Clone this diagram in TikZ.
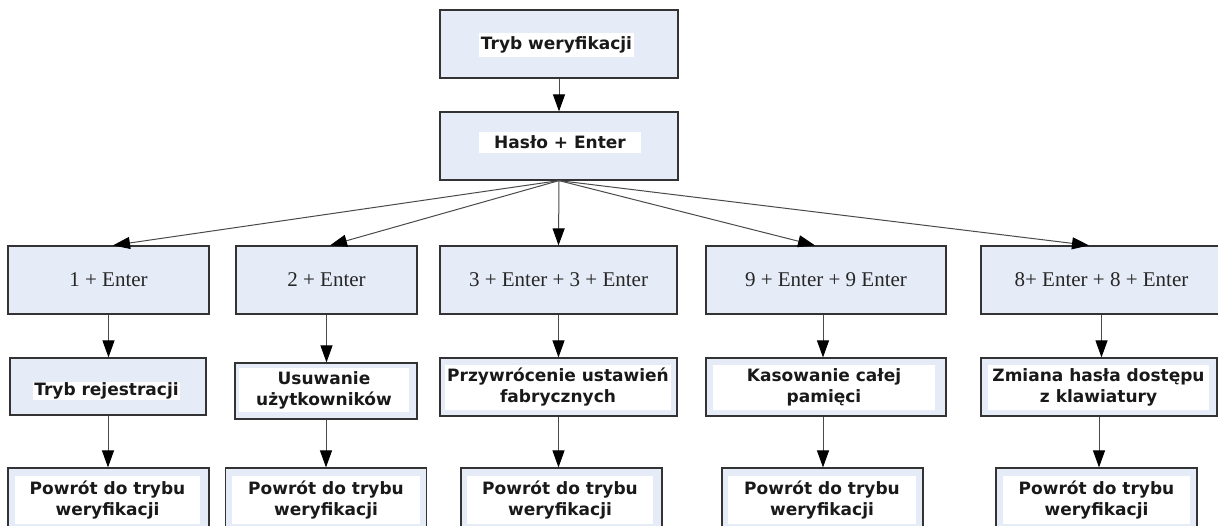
\documentclass[tikz,border=0pt]{standalone}
\usepackage{fontspec}
\setmainfont{Liberation Serif}
\newfontfamily\labelfont{DejaVu Sans}
\usetikzlibrary{arrows.meta}
\definecolor{boxblue}{HTML}{E6ECF7}
\definecolor{boxline}{HTML}{333333}
\definecolor{linkgray}{HTML}{4A4A4A}
\tikzset{%
	>={Triangle[width=12pt,length=17pt,color=black]},
	% Specifications for style of nodes:
	base/.style = {rectangle, draw=boxline, line width=1.2pt, fill=boxblue,
		inner sep=0pt},
	keybox/.style = {base, minimum height=68pt, text=black!85,
		font=\fontsize{21}{25}\selectfont},
	stepbox/.style = {base, minimum height=58pt},
	backbox/.style = {base, minimum width=201pt, minimum height=72pt},
	caption/.style = {fill=white, inner sep=0pt, align=center, text=black!90,
		font=\labelfont\bfseries\fontsize{17}{21}\selectfont},
	link/.style = {->, draw=linkgray, line width=1pt},
}

\begin{document}
\begin{tikzpicture}[x=1pt, y=-1pt]
	\useasboundingbox (0,0) rectangle (1218,525);
	% Specification of nodes (position, etc.)
	\node (verify)   [base, minimum width=238pt, minimum height=68pt] at (559,44) {};
	\node (verify-t) [caption, minimum width=155pt, minimum height=24pt] at (556.5,45) {Tryb weryfikacji};
	\node (haslo)    [base, minimum width=238pt, minimum height=68pt] at (559,146) {};
	\node (haslo-t)  [caption, minimum width=162pt, minimum height=21pt] at (560,142.5) {Hasło + Enter};

	% key combinations
	\node (k1) [keybox, minimum width=201pt] at (108.5,280) {1 + Enter};
	\node (k2) [keybox, minimum width=181pt] at (326.5,280) {2 + Enter};
	\node (k3) [keybox, minimum width=237pt] at (558.5,280) {3 + Enter + 3 + Enter};
	\node (k4) [keybox, minimum width=240pt] at (826,280) {9 + Enter + 9 Enter};
	\node (k5) [keybox, minimum width=241pt] at (1101.5,280) {8+ Enter + 8 + Enter};

	% functions
	\node (r1)   [stepbox, minimum width=196pt, minimum height=57pt] at (108,386.5) {};
	\node (r1-t) [caption, minimum width=147pt, minimum height=18pt] at (106.5,391) {Tryb rejestracji};
	\node (r2)   [stepbox, minimum width=182pt, minimum height=56pt] at (326,391) {};
	\node (r2-t) [caption, minimum width=170pt, minimum height=44pt] at (324,390) {Usuwanie\\użytkowników};
	\node (r3)   [stepbox, minimum width=237pt] at (558.5,387) {};
	\node (r3-t) [caption, minimum width=226pt, minimum height=45pt] at (558,387.5) {Przywrócenie ustawień\\fabrycznych};
	\node (r4)   [stepbox, minimum width=240pt] at (826,387) {};
	\node (r4-t) [caption, minimum width=222pt, minimum height=45pt] at (824,387.5) {Kasowanie całej\\pamięci};
	\node (r5)   [stepbox, minimum width=236pt] at (1099,387) {};
	\node (r5-t) [caption, minimum width=221pt, minimum height=45pt] at (1098.5,387.5) {Zmiana hasła dostępu\\z klawiatury};

	% return to verification
	\node (p1)   [backbox] at (108.5,504) {};
	\node (p1-t) [caption, minimum width=185pt, minimum height=48pt] at (107.5,500) {Powrót do trybu\\weryfikacji};
	\node (p2)   [backbox] at (326,504) {};
	\node (p2-t) [caption, minimum width=188pt, minimum height=48pt] at (326,500) {Powrót do trybu\\weryfikacji};
	\node (p3)   [backbox] at (561.5,504) {};
	\node (p3-t) [caption, minimum width=186pt, minimum height=48pt] at (560,500) {Powrót do trybu\\weryfikacji};
	\node (p4)   [backbox] at (822.5,504) {};
	\node (p4-t) [caption, minimum width=188pt, minimum height=48pt] at (822,500) {Powrót do trybu\\weryfikacji};
	\node (p5)   [backbox] at (1096.5,504) {};
	\node (p5-t) [caption, minimum width=187pt, minimum height=48pt] at (1096.5,500) {Powrót do trybu\\weryfikacji};

	\draw[link] (verify) -- (haslo);
	\draw[link] (haslo.south) -- ([xshift=4.5pt]k1.north);
	\draw[link] (haslo.south) -- ([xshift=3.5pt]k2.north);
	\draw[link] (haslo.south) -- (k3.north);
	\draw[link] (haslo.south) -- ([xshift=-11pt]k4.north);
	\draw[link] (haslo.south) -- ([xshift=-12.5pt]k5.north);
	\draw[link] (k1.south) -- (k1.south |- r1.north);
	\draw[link] (k2.south) -- (k2.south |- r2.north);
	\draw[link] (k3.south) -- (k3.south |- r3.north);
	\draw[link] ([xshift=-3pt]k4.south) -- ([xshift=-3pt]k4.south |- r4.north);
	\draw[link] (k5.south) -- (k5.south |- r5.north);
	\draw[link] (r1.south) -- (r1.south |- p1.north);
	\draw[link] (r2.south) -- (r2.south |- p2.north);
	\draw[link] (r3.south) -- (r3.south |- p3.north);
	\draw[link] ([xshift=-3pt]r4.south) -- ([xshift=-3pt]r4.south |- p4.north);
	\draw[link] (r5.south) -- (r5.south |- p5.north);
\end{tikzpicture}
\end{document}
